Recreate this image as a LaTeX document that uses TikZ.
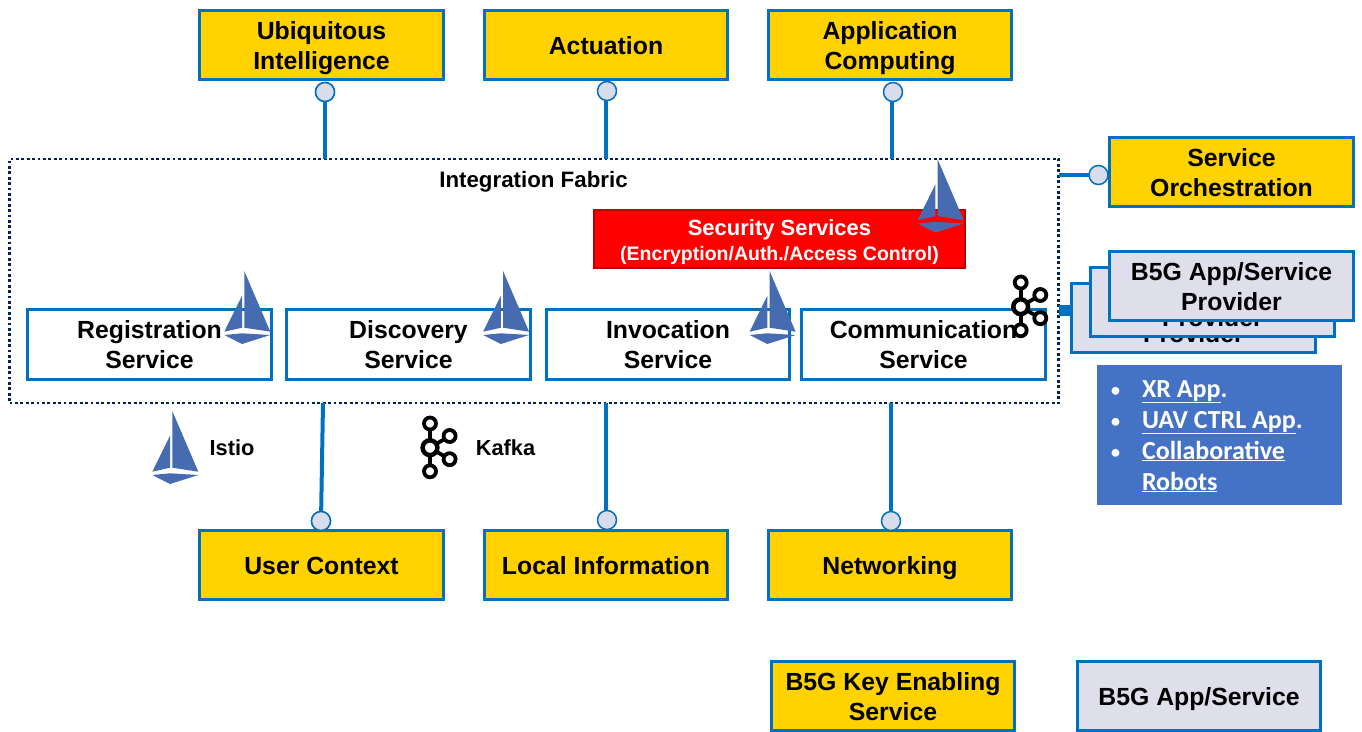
\documentclass[tikz,border=0pt]{standalone}
\usepackage{fontspec}
\setmainfont{Liberation Sans}
\newfontfamily\carlitofont{Carlito}
\definecolor{boxblue}{HTML}{0070C0}
\definecolor{boxyellow}{HTML}{FFD200}
\definecolor{boxlav}{HTML}{DFDEEB}
\definecolor{listblue}{HTML}{4472C4}
\definecolor{sailblue}{HTML}{466BB0}
\definecolor{fabricnavy}{HTML}{002060}
\definecolor{secborder}{HTML}{C00000}
\definecolor{circlefill}{HTML}{D9DCEB}
\tikzset{
  every node/.style={inner sep=0pt,outer sep=0pt,align=center},
  basebox/.style={draw=boxblue,line width=2.6pt,minimum width=243.5pt,minimum height=69pt,
    text=black,font=\fontsize{24.8}{30}\selectfont\bfseries,
    execute at begin node={\rule{0pt}{25pt}},
    execute at end node={\rule[-7pt]{0pt}{7pt}}},
  twolines/.style={execute at begin node={\rule{0pt}{55pt}}},
  yellowbox/.style={basebox,fill=boxyellow},
  whitebox/.style={basebox,fill=white},
  lavbox/.style={basebox,fill=boxlav},
  lollipop/.style={circle,draw=boxblue,line width=1.5pt,fill=circlefill,minimum size=19pt},
  stem/.style={draw=boxblue,line width=4pt},
  plainlabel/.style={font=\fontsize{21.8}{26}\selectfont\bfseries,text=black},
  pics/sail/.style={code={
    \fill[sailblue] (0,0) -- (26,60.7) -- (0,56.7) -- cycle;
    \fill[sailblue] (-2.3,24.7) -- (-2.3,56.7) -- (-20,60.7) -- cycle;
    \fill[sailblue] (-20,64) -- (-2.3,62.3) -- (26,64) -- (-2.3,73) -- cycle;
  }},
  pics/kafka/.style={code={
    \begin{scope}[draw=black,line width=3.8pt]
      \draw (0,-19) -- (0,19);
      \draw (0,0) -- (15,-9);
      \draw (0,0) -- (15,9);
      \draw[fill=white,line width=4.5pt] (0,0) circle (7.4);
      \draw[fill=white] (0,-24.2) circle (6);
      \draw[fill=white] (0,23.6) circle (6);
      \draw[fill=white] (19.6,-11.7) circle (6);
      \draw[fill=white] (19.6,11.5) circle (6);
    \end{scope}
  }},
}
\begin{document}
\begin{tikzpicture}[x=1pt,y=-1pt]
\useasboundingbox (0,0) rectangle (1362,731);
% fabric
\node[draw=fabricnavy,line width=2.8pt,dash pattern=on 2.8pt off 2.6pt,minimum width=1049pt,minimum height=244pt] (fabric) at (534,281) {};
\node[plainlabel,font=\fontsize{22.3}{26}\selectfont\bfseries] (fabriclabel) at (533.5,181.5) {Integration Fabric};
% top row
\node[yellowbox,twolines] (ubi) at (321.5,45) {Ubiquitous\\Intelligence};
\node[yellowbox] (act) at (606,45) {Actuation};
\node[yellowbox,twolines] (app) at (890,45) {Application\\Computing};
% bottom row
\node[yellowbox] (user) at (321.5,565) {User Context};
\node[yellowbox] (local) at (606,565) {Local Information};
\node[yellowbox] (net) at (890,565) {Networking};
% side
\node[yellowbox,twolines] (orch) at (1231.5,172) {Service\\Orchestration};
% lollipops
\node[lollipop] (c1) at (325,92) {};
\node[lollipop] (c2) at (607,91) {};
\node[lollipop] (c3) at (893,92) {};
\node[lollipop] (c4) at (1098.5,175) {};
\node[lollipop] (c5) at (321,521) {};
\node[lollipop] (c6) at (607,520) {};
\node[lollipop] (c7) at (891,521) {};
\coordinate (f1) at (325,159);
\coordinate (f2) at (605.5,159);
\coordinate (f3) at (891.5,159);
\coordinate (f4) at (1059,174.5);
\coordinate (f5) at (323,403);
\coordinate (f6) at (605.5,403);
\coordinate (f7) at (890.5,403);
\coordinate (f8) at (1059,310.5);
\draw[stem] (c1) -- (f1);
\draw[stem] (c2.south -| f2) -- (f2);
\draw[stem] (c3.south -| f3) -- (f3);
\draw[stem] (c4.west |- f4) -- (f4);
\draw[stem] (c5) -- (f5);
\draw[stem] (c6.north -| f6) -- (f6);
\draw[stem] (c7.north -| f7) -- (f7);
\node[lollipop] at (c1) {};
\node[lollipop] at (c5) {};
% provider stack
\coordinate (p3w) at (1071,310.5);
\draw[draw=boxblue,line width=11.5pt] (f8) -- (p3w);
\node[lavbox,twolines] (p3) at (1193.5,318) {B5G App/Service\\Provider};
\node[lavbox,twolines] (p2) at (1212.5,302) {B5G App/Service\\Provider};
\node[lavbox,twolines] (p1) at (1231.5,286) {B5G App/Service\\Provider};
% blue list
\fill[listblue] (1097,365) rectangle (1342,505);
\begin{scope}[every node/.append style={text=white,anchor=base west,font=\carlitofont\fontsize{26}{28}\selectfont\bfseries}]
\node[font=\carlitofont\fontsize{22}{28}\selectfont] (b1) at (1110,397) {•};
\node[font=\carlitofont\fontsize{22}{28}\selectfont] (b2) at (1110,428) {•};
\node[font=\carlitofont\fontsize{22}{28}\selectfont] (b3) at (1110,459) {•};
\node (l1) at (1142,397) {\underline{XR App}.};
\node (l2) at (1142,428) {\underline{UAV CTRL App}.};
\node (l3) at (1142,459) {\underline{Collaborative}};
\node (l4) at (1142,490) {\underline{Robots}};
\end{scope}
% services
\node[whitebox,twolines,minimum height=70pt] (reg) at (149.5,344.5) {Registration\\Service};
\node[whitebox,twolines,minimum height=70pt] (dis) at (408.5,344.5) {Discovery\\Service};
\node[whitebox,twolines,minimum height=70pt] (inv) at (668,344.5) {Invocation\\Service};
\node[whitebox,twolines,minimum height=70pt] (com) at (923.5,344.5) {Communication\\Service};
% security
\node[draw=secborder,line width=1.5pt,fill=red,minimum width=371pt,minimum height=58pt,text=white,
  font=\fontsize{19.5}{25}\selectfont\bfseries] (sec) at (779.5,239) {\rule{0pt}{23pt}{\fontsize{22}{25}\selectfont Security Services}\\(Encryption/Auth./Access Control)};
% bottom legend
\node[yellowbox,twolines] (key) at (893,696) {B5G Key Enabling\\Service};
\node[lavbox] (svc) at (1199,696) {B5G App/Service};
% icons
\pic at (244.3,271) {sail};
\pic at (503.1,271) {sail};
\pic at (769.6,271) {sail};
\pic at (937.7,159.5) {sail};
\pic at (172.3,411) {sail};
\pic at (430,447.7) {kafka};
\pic at (1020.7,306.7) {kafka};
\node[plainlabel] (istio) at (232,448) {Istio};
\node[plainlabel] (kafka) at (505.5,448) {Kafka};
\end{tikzpicture}
\end{document}
